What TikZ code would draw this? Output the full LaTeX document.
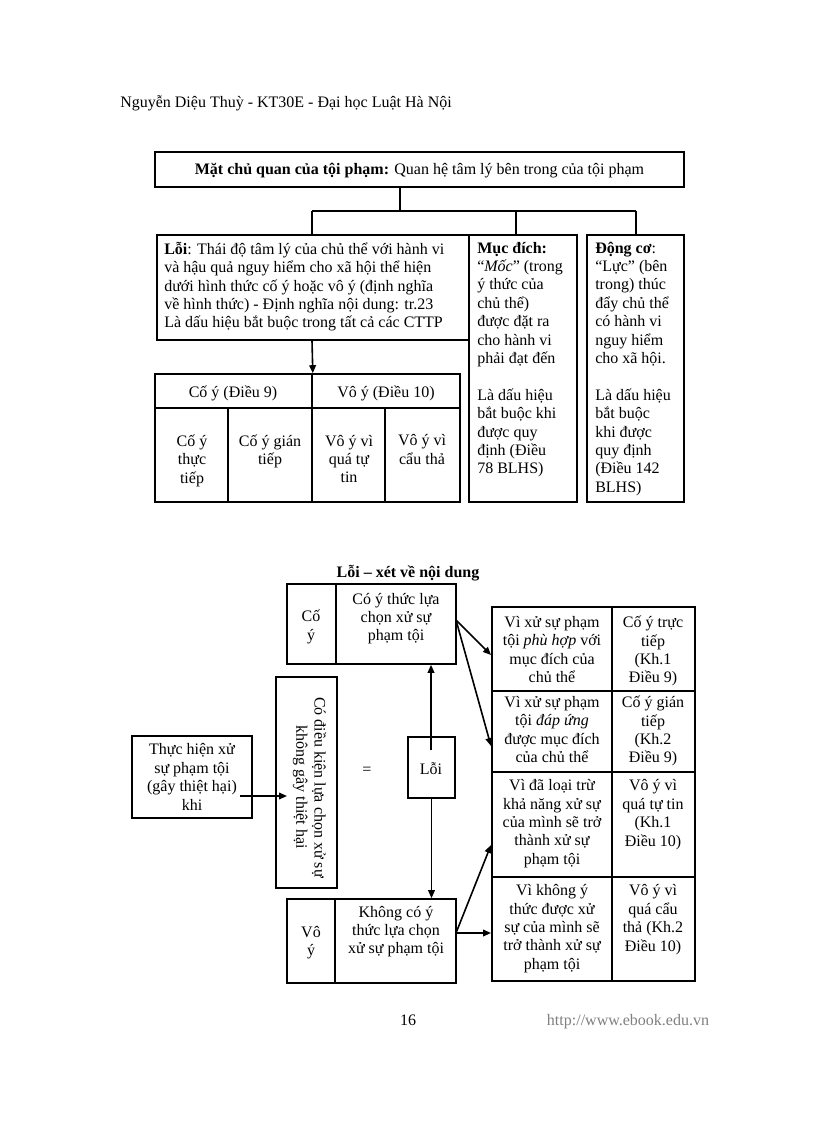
\documentclass[tikz,border=0pt]{standalone}
\usepackage{fontspec}
\setmainfont{Liberation Serif}
\usetikzlibrary{arrows.meta,calc}
\newcommand\rbox[6][]{\node[box,#1,minimum width={(#5-#3)*0.75pt},minimum height={(#6-#4)*0.75pt}] (#2) at ({(#3+#5)/2},{(#4+#6)/2}) {};}
\tikzset{
 box/.style={draw, line width=1.2pt, inner sep=0pt, fill=white},
 txt/.style={inner sep=0pt, align=center, font=\fontsize{12}{13.8}\selectfont, yshift=-2pt,
   execute at begin node={\rule{0pt}{12pt}}, execute at end node={\rule[-4pt]{0pt}{4pt}}},
 ltxt/.style={txt, align=left},
 plain/.style={inner sep=0pt, font=\fontsize{12}{13.8}\selectfont, anchor=base},
 arr/.style={line width=1.2pt, -{Triangle[length=6pt,width=5pt]}},
 ln/.style={line width=1.2pt},
}
\begin{document}
\begin{tikzpicture}[x=0.75pt,y=-0.75pt]
\useasboundingbox[fill=white] (0,0) rectangle (816,1123);
% header
\node[plain, anchor=base west] (hdr) at (120,108) {Nguyễn Diệu Thuỳ - KT30E - Đại học Luật Hà Nội};
% top part boxes
\rbox{top}{155}{152}{684}{187}
\rbox{loi}{157}{235}{470}{340}
\rbox{muc}{469}{235}{577}{502}
\rbox{dong}{587}{235}{684}{502}
\rbox{hc}{155}{374}{312}{408}
\rbox{hv}{312}{374}{460}{408}
\rbox{c1}{155}{408}{228}{502}
\rbox{c2}{228}{408}{312}{502}
\rbox{c3}{312}{408}{385}{502}
\rbox{c4}{385}{408}{460}{502}
\node[txt] (toptx) at (419.5,167) {\textbf{Mặt chủ quan của tội phạm:} Quan hệ tâm lý bên trong của tội phạm};
\node[ltxt, anchor=west] (loitx) at (164,285) {\textbf{Lỗi}: Thái độ tâm lý của chủ thể với hành vi\\và hậu quả nguy hiểm cho xã hội thể hiện\\dưới hình thức cố ý hoặc vô ý (định nghĩa\\về hình thức) - Định nghĩa nội dung: tr.23\\Là dấu hiệu bắt buộc trong tất cả các CTTP};
\node[ltxt, anchor=west] (muctx) at (477,358) {\textbf{Mục đích:}\\“\textit{Mốc}” (trong\\ý thức của\\chủ thể)\\được đặt ra\\cho hành vi\\phải đạt đến\\[13.8pt]Là dấu hiệu\\bắt buộc khi\\được quy\\định (Điều\\78 BLHS)};
\node[ltxt, anchor=west] (dongtx) at (595,367) {\textbf{Động cơ}:\\“Lực” (bên\\trong) thúc\\đẩy chủ thể\\có hành vi\\nguy hiểm\\cho xã hội.\\[13.8pt]Là dấu hiệu\\bắt buộc\\khi được\\quy định\\(Điều 142\\BLHS)};
\node[txt] (hctx) at (233,389) {Cố ý (Điều 9)};
\node[txt] (hvtx) at (386,389) {Vô ý (Điều 10)};
\node[txt] (c1tx) at (192,459) {Cố ý\\thực\\tiếp};
\node[txt] (c2tx) at (270,449.5) {Cố ý gián\\tiếp};
\node[txt] (c3tx) at (349,459) {Vô ý vì\\quá tự\\tin};
\node[txt] (c4tx) at (422,449.5) {Vô ý vì\\cẩu thả};
% connectors top
\coordinate (j0) at (400,211);
\coordinate (jL) at (312,211);
\coordinate (jM) at (516,211);
\coordinate (jR) at (636,211);
\draw[ln] (top.south -| j0) -- (j0);
\draw[ln] (jL) -- (jR);
\draw[ln] (jL) -- (loi.north -| jL);
\draw[ln] (jM) -- (muc.north -| jM);
\draw[ln] (jR) -- (dong.north -| jR);
\draw[arr] (loi.south -| jL) -- (hc.north east);
% bottom part
\node[txt] (title) at (408,569.5) {\textbf{Lỗi – xét về nội dung}};
\rbox{cyl}{287}{584}{336}{664}
\rbox{cyr}{336}{584}{456}{664}
\rbox{vyl}{287}{899}{335}{983}
\rbox{vyr}{335}{899}{456}{983}
\rbox{th}{132}{736}{252}{818}
\rbox{dk}{276}{677}{337}{888}
\rbox{loib}{408}{737}{455}{798}
\rbox{r1a}{492}{607}{612}{691}
\rbox{r1b}{612}{607}{695}{691}
\rbox{r2a}{492}{691}{612}{772}
\rbox{r2b}{612}{691}{695}{772}
\rbox{r3a}{492}{772}{612}{877}
\rbox{r3b}{612}{772}{695}{877}
\rbox{r4a}{492}{877}{612}{981}
\rbox{r4b}{612}{877}{695}{981}
\node[txt] (cyltx) at (311,625) {Cố\\ý};
\node[txt] (cyrtx) at (396,617) {Có ý thức lựa\\chọn xử sự\\phạm tội};
\node[txt] (vyltx) at (311,941) {Vô\\ý};
\node[txt] (vyrtx) at (396,930) {Không có ý\\thức lựa chọn\\xử sự phạm tội};
\node[txt] (thtx) at (192,777) {Thực hiện xử\\sự phạm tội\\(gây thiệt hại)\\khi};
\node[txt, rotate=-90, yshift=2pt, xshift=2pt] (dktx) at (306,782) {Có điều kiện lựa chọn xử sự\\không gây thiệt hại};
\node[txt] (loibtx) at (431,766.5) {Lỗi};
\node[txt] (eq) at (367,766) {=};
\node[txt] (r1atx) at (552,649.5) {Vì xử sự phạm\\tội \textit{phù hợp} với\\mục đích của\\chủ thể};
\node[txt] (r1btx) at (653,649.5) {Cố ý trực\\tiếp\\(Kh.1\\Điều 9)};
\node[txt] (r2atx) at (552,729.5) {Vì xử sự phạm\\tội \textit{đáp ứng}\\được mục đích\\của chủ thể};
\node[txt] (r2btx) at (653,729.5) {Cố ý gián\\tiếp\\(Kh.2\\Điều 9)};
\node[txt] (r3atx) at (552,822) {Vì đã loại trừ\\khả năng xử sự\\của mình sẽ trở\\thành xử sự\\phạm tội};
\node[txt] (r3btx) at (653,813) {Vô ý vì\\quá tự tin\\(Kh.1\\Điều 10)};
\node[txt] (r4atx) at (552,927) {Vì không ý\\thức được xử\\sự của mình sẽ\\trở thành xử sự\\phạm tội};
\node[txt] (r4btx) at (653,918) {Vô ý vì\\quá cẩu\\thả (Kh.2\\Điều 10)};
% connectors bottom
\coordinate (a1s) at (240,796);
\coordinate (a1e) at (287,796);
\draw[arr] (a1s) -- (a1e);
\coordinate (lu) at (431,750);
\draw[arr] (lu) -- (lu |- cyr.south);
\draw[arr] (loib.south) -- (loib.south |- vyr.north);
\coordinate (cyo) at (456,620);
\coordinate (t1) at (491,655);
\coordinate (t2) at (491,746);
\coordinate (vyo) at (456,933);
\coordinate (t3) at (491,845);
\coordinate (t4) at (491,933);
\draw[arr] (cyo) -- (t1);
\draw[arr] (cyo) -- (t2);
\draw[arr] (vyo) -- (t3);
\draw[arr] (vyo) -- (t4);
% footer
\node[plain] (pg) at (408,1025) {16};
\node[plain, text=gray] (url) at (628,1025) {http://www.ebook.edu.vn};
\end{tikzpicture}
\end{document}
